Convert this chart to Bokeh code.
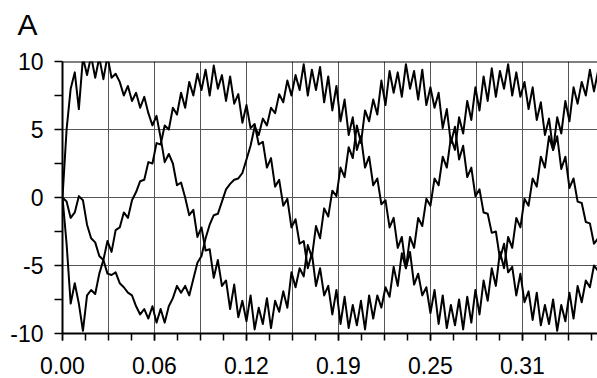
from bokeh.plotting import figure
from bokeh.models import Range1d, FixedTicker, CustomJSTickFormatter, Span, Title, ColumnDataSource
from bokeh.embed import file_html
from bokeh.resources import INLINE

# ---- data ----
sample_step = 0.2 / 72  # seconds between samples

ia = [0.0, 5.0, 8.0, 9.2, 6.5, 10.3, 9.0, 10.4, 8.8, 10.3, 8.7, 10.4, 8.8, 9.1, 8.5, 7.5, 8.2, 7.1, 7.7, 6.6,
      7.4, 6.2, 5.3, 6.0, 4.4, 2.6, 3.2, 2.5, 0.9, 1.1, 0.0,
      -1.3, -0.9, -2.9, -2.2, -3.9, -3.8, -5.9, -4.6, -6.5, -6.1, -8.2, -6.4, -8.8, -7.6, -9.1, -7.2, -9.7, -8.1,
      -9.3, -7.4, -9.6, -7.6, -8.4, -6.9, -8.1, -5.5, -6.6, -5.2,
      -5.8, -3.5, -4.4, -2.1, -3.0, -0.8, -1.4, 0.5, 0.1, 2.2, 1.5, 3.7, 2.9, 5.3, 4.0, 6.4, 5.6, 7.2, 6.1, 8.6,
      6.8, 9.3, 7.7, 9.2, 7.4, 9.8, 8.0, 9.3, 7.2, 9.4, 6.8, 8.1, 6.6, 7.7, 5.1, 6.5, 4.0, 5.2, 2.8, 3.8, 1.5,
      2.2, 0.1, 0.6,
      -1.1, -1.2, -2.6, -2.5, -4.5, -3.4, -5.5, -5.1, -7.2, -5.6, -7.7, -6.9, -9.0, -7.0, -9.4, -7.9, -9.3, -7.5,
      -9.8, -7.9, -9.1, -7.0, -8.9, -6.5, -7.7, -6.1, -6.6, -5.0, -5.4]

ib = [0.0, -3.4, -7.8, -6.3, -7.8, -9.8, -7.2, -6.8, -7.1, -5.6, -4.6, -3.2, -4.0, -2.4, -2.2, -1.1, -1.5, -0.2,
      0.4, 1.2,
      1.3, 2.6, 2.5, 4.0, 3.9, 5.3, 5.0, 6.6, 6.1, 7.7,
      6.6, 8.5, 7.5, 9.1, 7.9, 9.4, 7.5, 9.7, 8.0, 9.0,
      7.1, 8.9, 6.9, 7.6, 5.5, 6.8, 5.1, 5.4, 3.9, 4.1,
      2.2, 2.9, 0.8, 1.3, -0.6, -0.1, -2.2, -1.6, -3.4, -3.2,
      -5.2, -4.1, -6.5, -5.2, -7.2, -6.5, -8.6, -6.8, -9.3, -7.3,
      -9.6, -7.9, -9.4, -7.6, -9.7, -7.2, -8.9, -7.2, -8.1, -6.6,
      -7.3, -5.1, -6.5, -4.1, -5.2, -2.9, -3.7, -1.5, -2.1, -0.1,
      -0.6, 1.4,
      0.9, 3.0, 2.2, 4.4, 3.5, 5.9, 4.7, 7.1, 5.7, 8.1,
      6.4, 8.9, 7.1, 9.5, 7.4, 9.3, 8.0, 9.8, 7.5, 9.2,
      7.4, 8.5, 6.5, 8.1, 5.7, 7.0, 4.6, 5.8, 3.5, 4.5,
      2.1, 3.0, 0.7, 1.4, -0.3, -0.4, -1.8, -1.9, -3.4, -3.0]

ic = [0.0, -0.3, -1.5, -1.1, 0.1, -0.2, -2.0, -3.0, -3.3, -4.3,
      -4.6, -5.6, -5.7, -5.5, -6.3, -6.6, -7.0, -7.2, -8.0, -8.6,
      -8.2, -8.9, -8.0, -9.2, -8.2, -9.2, -8.0, -7.4, -6.5, -7.0,
      -6.5, -7.2, -6.0, -4.8, -4.3, -3.0, -2.0, -1.3, -1.2, -0.3,
      0.6, 1.0, 1.3, 1.4, 1.8, 2.8, 3.8,
      5.2, 4.6, 5.8, 5.3, 6.6, 6.2, 7.6, 7.0, 8.6, 7.5,
      9.0, 7.9, 9.8, 7.5, 9.4, 7.9, 9.6, 7.0, 8.9, 6.4,
      8.2, 5.6, 7.2, 4.6, 5.9, 3.5, 4.5, 2.2, 3.0, 0.9,
      1.4, -0.5, -0.2, -2.2, -1.5, -3.7, -2.9, -5.2, -4.0, -6.4,
      -5.6, -7.2, -6.6, -8.5, -6.8, -9.3, -7.2, -9.6, -7.9, -9.4,
      -7.5, -9.7, -7.3, -9.2, -6.8, -8.6, -6.1, -7.6, -5.2, -6.5,
      -4.0, -5.2, -2.9, -3.7, -1.5, -2.2, -0.1, -0.6, 1.4, 0.8,
      3.0, 2.2,
      4.5, 3.5, 5.9, 4.7, 7.1, 5.6, 8.1, 6.9, 8.5, 7.5, 9.4, 7.8, 9.3]

t = [i * sample_step for i in range(len(ia))]

x_label_ticks = [0.0, 0.0625, 0.125, 0.1875, 0.25, 0.3125]
x_tick_labels = ["0.00", "0.06", "0.12", "0.19", "0.25", "0.31"]
x_minor_ticks = [i * 0.015625 for i in range(24)]
x_grid_ticks = [i * 0.03125 for i in range(1, 12)]
y_label_ticks = [-10, -5, 0, 5, 10]
y_tick_labels = ["-10", "-5", "0", "5", "10"]
y_minor_ticks = [-7.5, -2.5, 2.5, 7.5]
y_grid_ticks = [-5, 0, 5]
unit_label = "A"
x_end = 0.3635

FONT = "Liberation Sans"

p = figure(width=597, height=378, x_range=Range1d(0, x_end), y_range=Range1d(-10, 10),
           output_backend="svg", toolbar_location=None,
           min_border_left=62, min_border_right=0, min_border_top=61, min_border_bottom=45,
           background_fill_color="white", border_fill_color="white", outline_line_color=None)

# unit label as the (outermost) title
p.title.text = unit_label
p.title.text_font = FONT
p.title.text_font_size = "30px"
p.title.text_font_style = "normal"
p.title.text_color = "black"
p.title.align = "left"
p.title.offset = -45
p.title.standoff = 0

# thin spacer panel between the unit label and the frame
p.add_layout(Title(text=" ", text_font_size="2px", standoff=17), "above")

src = ColumnDataSource(dict(t=t, ia=ia, ib=ib, ic=ic))
for col in ("ia", "ib", "ic"):
    p.line("t", col, source=src, line_color="black", line_width=2, line_join="round")

# axes
xa = p.xaxis[0]
xa.ticker = FixedTicker(ticks=x_label_ticks, minor_ticks=x_minor_ticks)
xa.formatter = CustomJSTickFormatter(args=dict(labels=x_tick_labels), code="return labels[index];")
ya = p.yaxis[0]
ya.ticker = FixedTicker(ticks=y_label_ticks, minor_ticks=y_minor_ticks)
ya.formatter = CustomJSTickFormatter(args=dict(labels=y_tick_labels), code="return labels[index];")

for ax, out, standoff in ((xa, 7, 16), (ya, 8, 11)):
    ax.axis_line_color = "black"
    ax.axis_line_width = 2
    ax.major_tick_line_color = "black"
    ax.minor_tick_line_color = "black"
    ax.major_tick_line_width = 1.5
    ax.minor_tick_line_width = 1.5
    ax.major_tick_in = 0
    ax.minor_tick_in = 0
    ax.major_tick_out = out
    ax.minor_tick_out = out
    ax.major_label_text_font = FONT
    ax.major_label_text_font_size = "23px"
    ax.major_label_text_color = "black"
    ax.major_label_standoff = standoff

p.xgrid.ticker = FixedTicker(ticks=x_grid_ticks)
p.ygrid.ticker = FixedTicker(ticks=y_grid_ticks)
for g in (p.xgrid[0], p.ygrid[0]):
    g.grid_line_color = "#555555"
    g.grid_line_width = 1

p.add_layout(Span(location=10, dimension="width", line_color="black", line_width=2))

open("out.html", "w").write(file_html(p, INLINE))
